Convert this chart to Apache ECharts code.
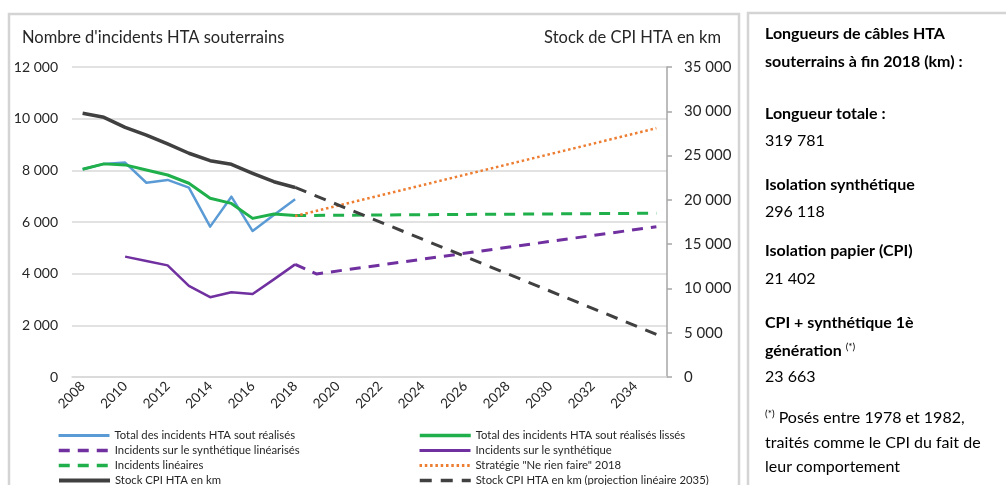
<!DOCTYPE html>
<html lang="fr">
<head>
<meta charset="utf-8">
<title>Incidents HTA souterrains et stock de CPI</title>
<script src="https://cdn.jsdelivr.net/npm/echarts@6/dist/echarts.min.js"></script>
<style>
  html, body { margin: 0; padding: 0; background: #ffffff; }
  #chart { width: 1006px; height: 485px; }
</style>
</head>
<body>
<div id="chart"></div>
<script>
// Années (axe des abscisses)
const years = ['2008', '2009', '2010', '2011', '2012', '2013', '2014', '2015', '2016', '2017',
               '2018', '2019', '2020', '2021', '2022', '2023', '2024', '2025', '2026', '2027',
               '2028', '2029', '2030', '2031', '2032', '2033', '2034', '2035'];

// Nombre d'incidents HTA souterrains (axe de gauche)
const totalRealises = [8040, 8250, 8300, 7520, 7630, 7330, 5820, 6980, 5650, 6270, 6880];
const totalLisses = [8040, 8250, 8210, 8010, 7820, 7500, 6920, 6720, 6140, 6310, 6250];
const incidentsSynthetique = [null, null, 4660, 4490, 4320, 3530, 3090, 3280, 3210, 3780, 4360];
// Projections : points de départ / d'arrivée, reliés en ligne droite
const synthLinearises = { 2018: 4360, 2019: 3990, 2035: 5820 };
const incidentsLineaires = { 2018: 6250, 2035: 6340 };
const neRienFaire = { 2018: 6230, 2035: 9630 };

// Stock de CPI HTA en km (axe de droite)
const stockCpi = [29770, 29320, 28190, 27320, 26310, 25260, 24420, 24010, 23000, 22050, 21402];
const stockCpiProjection = { 2018: 21402, 2035: 4820 };

// Graduations
const leftTicks = [0, 2000, 4000, 6000, 8000, 10000, 12000];
const rightTicks = [0, 5000, 10000, 15000, 20000, 25000, 30000, 35000];

// Légende : deux colonnes, quatre lignes
const legendColumns = [
  ['Total des incidents HTA sout réalisés', 'Incidents sur le synthétique linéarisés',
   'Incidents linéaires', 'Stock CPI HTA en km'],
  ['Total des incidents HTA sout réalisés lissés', 'Incidents sur le synthétique',
   'Stratégie "Ne rien faire" 2018', 'Stock CPI HTA en km (projection linéaire 2035)']
];

// Encadré : longueurs de câbles à fin 2018
const panelLines = [
  { text: 'Longueurs de câbles HTA', bold: true, y: 33 },
  { text: 'souterrains à fin 2018 (km) :', bold: true, y: 61 },
  { text: 'Longueur totale :', bold: true, y: 113 },
  { text: '319 781', bold: false, y: 140 },
  { text: 'Isolation synthétique', bold: true, y: 184 },
  { text: '296 118', bold: false, y: 211 },
  { text: 'Isolation papier (CPI)', bold: true, y: 250 },
  { text: '21 402', bold: false, y: 278 },
  { text: 'CPI + synthétique 1è', bold: true, y: 322 },
  { text: 'génération {sup|(*)}', bold: true, y: 349 },
  { text: '23 663', bold: false, y: 376 },
  { text: '{sup|(*)} Posés entre 1978 et 1982,', bold: false, y: 416 },
  { text: 'traités comme le CPI du fait de', bold: false, y: 442 },
  { text: 'leur comportement', bold: false, y: 466 }
];

const FONT = 'Lato, "Open Sans", sans-serif';

function fullSeries(values) {
  return years.map((y, i) => (i < values.length ? values[i] : null));
}
function sparseSeries(points) {
  return years.map(y => (points[y] !== undefined ? points[y] : null));
}
function fmt(v) {
  return String(v).replace(/\B(?=(\d{3})+(?!\d))/g, ' ');
}

const chart = echarts.init(document.getElementById('chart'), null, { renderer: 'canvas' });

const lineWidths = {};
const lineSeries = (name, data, color, width, type, yIdx, extra) => {
  lineWidths[name] = width;
  return Object.assign({
    name: name,
    type: 'line',
    data: data,
    yAxisIndex: yIdx,
    symbol: 'none',
    showSymbol: false,
    connectNulls: false,
    animation: false,
    silent: true,
    lineStyle: { color: color, width: width, type: type, cap: 'butt', join: 'round' },
    itemStyle: { color: color }
  }, extra || {});
};

const series = [
  lineSeries('Total des incidents HTA sout réalisés', fullSeries(totalRealises), '#5b9bd5', 2.5, 'solid', 0),
  lineSeries('Total des incidents HTA sout réalisés lissés', fullSeries(totalLisses), '#1fb04c', 3, 'solid', 0),
  lineSeries('Incidents sur le synthétique linéarisés', sparseSeries(synthLinearises), '#7030a0', 3, [11, 8], 0, { connectNulls: true }),
  lineSeries('Incidents sur le synthétique', fullSeries(incidentsSynthetique), '#7030a0', 2.5, 'solid', 0),
  lineSeries('Incidents linéaires', sparseSeries(incidentsLineaires), '#1fb04c', 3, [11, 8], 0, { connectNulls: true }),
  lineSeries('Stratégie "Ne rien faire" 2018', sparseSeries(neRienFaire), '#ed7d31', 2.5, [2.5, 2.8], 0, { connectNulls: true }),
  lineSeries('Stock CPI HTA en km', fullSeries(stockCpi), '#404040', 3.5, 'solid', 1),
  lineSeries('Stock CPI HTA en km (projection linéaire 2035)', sparseSeries(stockCpiProjection), '#404040', 3, [12, 9], 1, { connectNulls: true })
];

// one legend component per entry, laid out as a 2 x 4 grid
const legendLefts = [57, 418];
const legendRowCenters = [437, 452, 467, 482];
const legends = [];
legendColumns.forEach((col, c) => {
  col.forEach((name, r) => {
    legends.push({
      left: legendLefts[c],
      top: legendRowCenters[r] - 7,
      padding: 0,
      orient: 'horizontal',
      itemWidth: 51,
      itemHeight: 14,
      selectedMode: false,
      itemStyle: { opacity: 0 },
      lineStyle: { width: lineWidths[name] + 0.5 },
      textStyle: { fontSize: 11.3, color: '#262626', fontFamily: FONT, padding: [0, 0, 0, 0] },
      data: [name]
    });
  });
});

const panelGraphics = panelLines.map(l => ({
  type: 'text',
  left: 765,
  top: l.y - 7,
  silent: true,
  style: {
    text: l.text,
    font: (l.bold ? 'bold ' : '') + '16px ' + FONT,
    fill: '#000000',
    rich: {
      sup: { fontSize: 10, fontFamily: FONT, fontWeight: 'normal', verticalAlign: 'top', padding: [0, 0, 8, 0], fill: '#000000' }
    }
  }
}));

chart.setOption({
  animation: false,
  textStyle: { fontFamily: FONT },
  grid: { left: 72, right: 339, top: 67, bottom: 108, containLabel: false },
  legend: legends,
  xAxis: {
    type: 'category',
    data: years,
    boundaryGap: true,
    axisLine: { show: true, lineStyle: { color: '#d9d9d9', width: 1.5 } },
    axisTick: { show: false },
    axisLabel: {
      interval: 1, rotate: 45, margin: 7, fontSize: 13.5, color: '#262626', fontFamily: FONT
    }
  },
  yAxis: [
    {
      type: 'value', min: leftTicks[0], max: leftTicks[leftTicks.length - 1], interval: 2000,
      position: 'left',
      axisLine: { show: false },
      axisTick: { show: false },
      splitLine: { show: true, lineStyle: { color: '#d9d9d9', width: 1.5 } },
      axisLabel: { margin: 14, fontSize: 14, color: '#262626', fontFamily: FONT, formatter: fmt }
    },
    {
      type: 'value', min: rightTicks[0], max: rightTicks[rightTicks.length - 1], interval: 5000,
      position: 'right',
      axisLine: { show: true, lineStyle: { color: '#a6a6a6', width: 1.5 } },
      axisTick: { show: true, inside: false, length: 5, lineStyle: { color: '#a6a6a6', width: 1.5 } },
      splitLine: { show: false },
      axisLabel: { margin: 17, fontSize: 15, color: '#262626', fontFamily: FONT, formatter: fmt }
    }
  ],
  series: series,
  graphic: [
    // cadres
    { type: 'rect', silent: true, shape: { x: 9, y: 14, width: 730, height: 500 },
      style: { fill: 'none', stroke: '#d4d4d4', lineWidth: 2.5 } },
    { type: 'rect', silent: true, shape: { x: 748, y: 13, width: 300, height: 500 },
      style: { fill: 'none', stroke: '#d4d4d4', lineWidth: 2.5 } },
    // titres des axes
    { type: 'text', left: 22, top: 29, silent: true,
      style: { text: "Nombre d'incidents HTA souterrains", font: '16.5px ' + FONT, fill: '#262626' } },
    { type: 'text', right: 1006 - 721, top: 29, silent: true,
      style: { text: 'Stock de CPI HTA en km', font: '16.5px ' + FONT, fill: '#262626', textAlign: 'right' } }
  ].concat(panelGraphics)
});
</script>
</body>
</html>
